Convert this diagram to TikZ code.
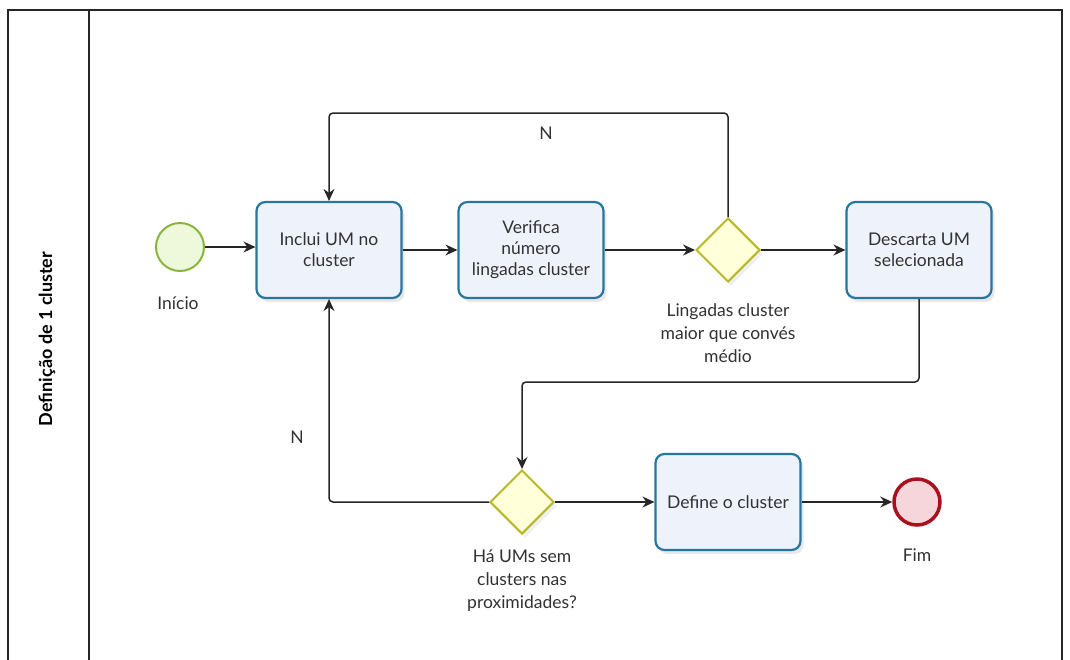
\documentclass[tikz,border=0pt]{standalone}
\usepackage{fontspec}
\setmainfont{Lato}
\usetikzlibrary{shapes.geometric,arrows.meta,shadows}
\definecolor{taskblue}{RGB}{38,118,160}
\definecolor{taskfill}{RGB}{238,243,251}
\definecolor{gwline}{RGB}{184,184,40}
\definecolor{gwfill}{RGB}{255,255,218}
\definecolor{startline}{RGB}{140,180,60}
\definecolor{startfill}{RGB}{238,249,220}
\definecolor{endline}{RGB}{168,18,31}
\definecolor{endfill}{RGB}{246,214,219}
\definecolor{txt}{RGB}{50,50,50}
\tikzset{
  taskbox/.style={rectangle, rounded corners=9, draw=taskblue, line width=2.2, fill=taskfill,
    minimum width=145, minimum height=96, align=center, text=txt, inner sep=2,
    font=\fontsize{17.5}{21}\selectfont,
    drop shadow={opacity=0.18, shadow xshift=3pt, shadow yshift=-4pt}},
  gateway/.style={diamond, aspect=1, draw=gwline, line width=2, fill=gwfill,
    minimum width=64, minimum height=64, inner sep=0,
    drop shadow={opacity=0.12, shadow xshift=3pt, shadow yshift=-4pt}},
  startev/.style={circle, draw=startline, line width=2, fill=startfill, minimum size=48, inner sep=0},
  endev/.style={circle, draw=endline, line width=3.5, fill=endfill, minimum size=46, inner sep=0},
  lbl/.style={align=center, text=txt, font=\fontsize{17.5}{23}\selectfont},
  flow/.style={draw=black!85, line width=1.5, -{Stealth[length=12pt,width=11pt,inset=4pt]}, rounded corners=4},
  frame/.style={draw=black!85, line width=1.3}
}
\begin{document}
\begin{tikzpicture}[x=1pt,y=-1pt]
\useasboundingbox (0,0) rectangle (1070,659);
\fill[white] (0,0) rectangle (1070,659);
% lane frame
\draw[frame] (8,672) -- (8,10) -- (1062,10) -- (1062,672);
\draw[frame] (89,10) -- (89,672);
\node[rotate=90, font=\bfseries\fontsize{18}{20}\selectfont, text=black] (lane) at (47,339) {Definição de 1 cluster};

% nodes
\node[startev] (start) at (180,247) {};
\node[lbl] (startlbl) at (178,303) {Início};
\node[taskbox] (t1) at (329,250) {Inclui UM no\\cluster};
\node[taskbox] (t2) at (531,250) {Verifica\\número\\lingadas cluster};
\node[gateway] (g1) at (728,250) {};
\node[lbl] (g1lbl) at (728,333) {Lingadas cluster\\maior que convés\\médio};
\node[taskbox] (t3) at (919,250) {Descarta UM\\selecionada};
\node[gateway] (g2) at (522,502) {};
\node[lbl] (g2lbl) at (522,581) {Há UMs sem\\clusters nas\\proximidades?};
\node[taskbox] (t4) at (728,502) {Define o cluster};
\node[endev] (end) at (917,502) {};
\node[lbl] (endlbl) at (917,555) {Fim};

\coordinate (topline) at (0,113);
\coordinate (midline) at (0,382);

% flows
\draw[flow] (start) -- (start.east -| t1.west);
\draw[flow] (t1) -- (t2);
\draw[flow] (t2) -- (g1);
\draw[flow] (g1) -- (t3);
\draw[flow] (g1.north) -- (g1.north |- topline) -| (t1.north);
\node[lbl] (n1) at (546,133) {N};
\draw[flow] (t3.south) -- (t3.south |- midline) -| (g2.north);
\draw[flow] (g2.west) -| (t1.south);
\node[lbl] (n2) at (297,437) {N};
\draw[flow] (g2) -- (t4);
\draw[flow] (t4) -- (end);
\end{tikzpicture}
\end{document}
